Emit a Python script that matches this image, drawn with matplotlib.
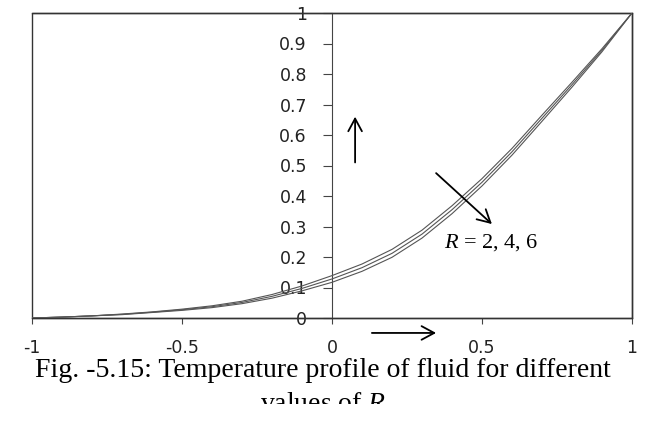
import matplotlib
matplotlib.use('Agg')
import matplotlib.pyplot as plt
from matplotlib.patches import Rectangle

# values
x = [-1.0, -0.9, -0.8, -0.7, -0.6, -0.5, -0.4, -0.3, -0.2, -0.1, 0.0,
     0.1, 0.2, 0.3, 0.4, 0.5, 0.6, 0.7, 0.8, 0.9, 1.0]
theta_r2 = [0.000, 0.003, 0.007, 0.013, 0.020, 0.029, 0.040, 0.055, 0.077, 0.105, 0.139,
            0.177, 0.225, 0.288, 0.368, 0.457, 0.556, 0.665, 0.773, 0.883, 1.000]
theta_r4 = [0.000, 0.003, 0.007, 0.012, 0.019, 0.027, 0.037, 0.051, 0.071, 0.097, 0.128,
            0.165, 0.212, 0.275, 0.355, 0.445, 0.545, 0.655, 0.765, 0.878, 1.000]
theta_r6 = [0.000, 0.003, 0.007, 0.011, 0.018, 0.025, 0.034, 0.047, 0.065, 0.089, 0.117,
            0.153, 0.199, 0.262, 0.342, 0.433, 0.534, 0.645, 0.757, 0.873, 1.000]

x_ticks = [-1, -0.5, 0, 0.5, 1]
x_tick_labels = ['-1', '-0.5', '0', '0.5', '1']
y_ticks = [0, 0.1, 0.2, 0.3, 0.4, 0.5, 0.6, 0.7, 0.8, 0.9, 1]
y_tick_labels = ['0', '0.1', '0.2', '0.3', '0.4', '0.5', '0.6', '0.7', '0.8', '0.9', '1']

plt.rcParams['mathtext.fontset'] = 'custom'
plt.rcParams['mathtext.rm'] = 'Liberation Serif'
plt.rcParams['mathtext.it'] = 'Liberation Serif:italic'

fig = plt.figure(figsize=(6.45, 4.21), dpi=100)
ax = fig.add_axes([32 / 645, 103 / 421, 600 / 645, 305 / 421])

for ys in (theta_r2, theta_r4, theta_r6):
    ax.plot(x, ys, color='#555555', lw=0.8, zorder=3)

ax.set_xlim(-1, 1)
ax.set_ylim(0, 1)
ax.set_axisbelow(True)

frame_color = '#333333'
ax.spines['left'].set_position(('data', 0))
ax.spines['left'].set_color('#444444')
ax.spines['left'].set_linewidth(0.8)
for side in ('top', 'right', 'bottom'):
    ax.spines[side].set_color(frame_color)
    ax.spines[side].set_linewidth(1.0)
ax.add_patch(Rectangle((0, 0), 1, 1, transform=ax.transAxes, fill=False,
                       edgecolor=frame_color, lw=1.0, clip_on=False, zorder=1))

ax.set_xticks(x_ticks)
ax.set_xticklabels(x_tick_labels)
ax.set_yticks(y_ticks)
ax.set_yticklabels(y_tick_labels)
ax.tick_params(axis='x', direction='out', length=4.3, width=0.8, color='#444444',
               pad=10.5, labelsize=12.5, labelcolor='#222222')
ax.tick_params(axis='y', direction='out', length=6.5, width=0.8, color='#444444',
               pad=11.5, labelsize=12.5, labelcolor='#222222')
for lab in ax.get_xticklabels() + ax.get_yticklabels():
    lab.set_family('DejaVu Sans')

arrow = dict(arrowstyle='->,head_length=0.65,head_width=0.35', color='black', lw=1.3,
             mutation_scale=14, shrinkA=0, shrinkB=0)
ax.annotate('', xy=(0.077, 0.66), xytext=(0.077, 0.51), arrowprops=arrow,
            annotation_clip=False)
ax.annotate('', xy=(0.533, 0.308), xytext=(0.347, 0.475), arrowprops=arrow,
            annotation_clip=False)
ax.annotate('', xy=(0.347, -0.049), xytext=(0.133, -0.049), arrowprops=arrow,
            annotation_clip=False)

ax.text(0.375, 0.246, r'$R$ = 2, 4, 6', family='Liberation Serif', fontsize=16,
        ha='left', va='center')

fig.text(323 / 645, 1 - 377 / 421, 'Fig. -5.15: Temperature profile of fluid for different',
         family='Liberation Serif', fontsize=20, ha='center', va='baseline')
fig.text(323 / 645, 1 - 411 / 421, r'values of $R$',
         family='Liberation Serif', fontsize=20, ha='center', va='baseline')
# the caption's second line is cut off in the original picture
fig.patches.append(Rectangle((0, 0), 1, 17 / 421, transform=fig.transFigure,
                             facecolor='white', edgecolor='none', zorder=10))

fig.savefig('out.png', dpi=100)
